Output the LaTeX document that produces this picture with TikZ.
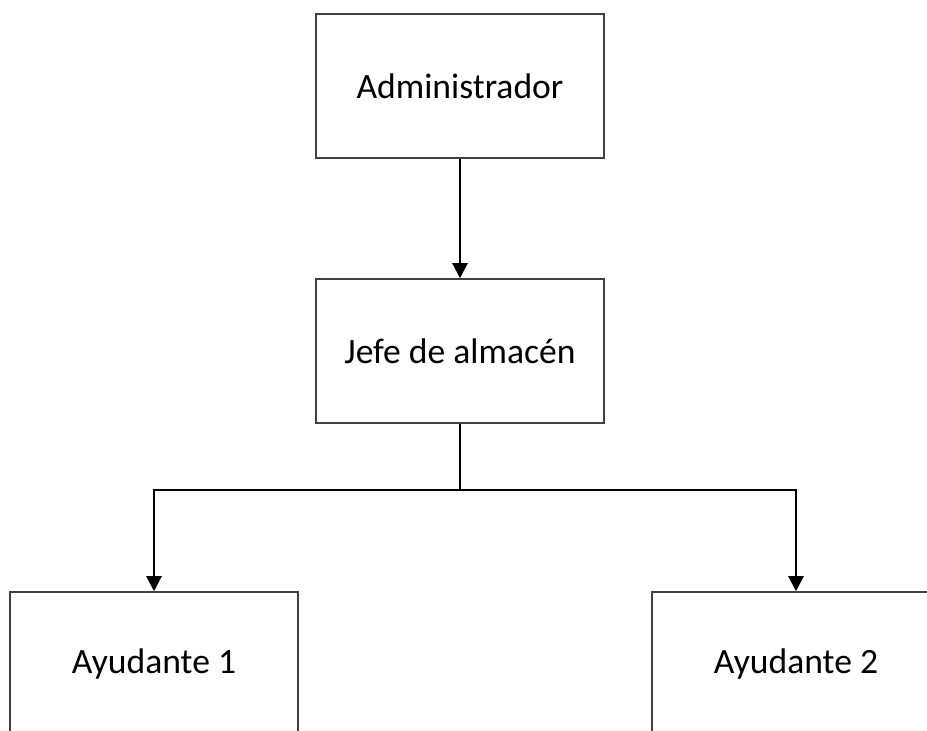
\documentclass[tikz,border=0pt]{standalone}
\usepackage{fontspec}
\setmainfont{Carlito}
\usetikzlibrary{arrows.meta}
\begin{document}
\begin{tikzpicture}[x=0.5pt,y=-0.5pt,
  role/.style={draw=black!75, line width=0.75pt, fill=white,
    minimum width=144pt, minimum height=72pt, inner sep=0pt,
    font=\fontsize{17.8}{21}\selectfont},
  conn/.style={draw=black, line width=1.1pt,
    -{Triangle[length=7.5pt,width=7.5pt]}}]
  \useasboundingbox (0,0) rectangle (927,731);
  \clip (0,0) rectangle (927,731);
  \fill[white] (0,0) rectangle (927,731);
  % boxes
  \node[role] (admin) at (460,86) {Administrador};
  \node[role] (jefe)  at (460,351) {Jefe de almacén};
  \node[role] (ay1)   at (154,664) {Ayudante 1};
  \node[role] (ay2)   at (796,664) {Ayudante 2};
  % junction of the branches below the warehouse chief
  \coordinate (bus) at (460,490);
  % connectors
  \draw[conn] (admin.south) -- (jefe.north);
  \draw[line width=1.1pt] (jefe.south) -- (bus);
  \draw[conn] (bus) -| (ay1.north);
  \draw[conn] (bus) -| (ay2.north);
\end{tikzpicture}
\end{document}
